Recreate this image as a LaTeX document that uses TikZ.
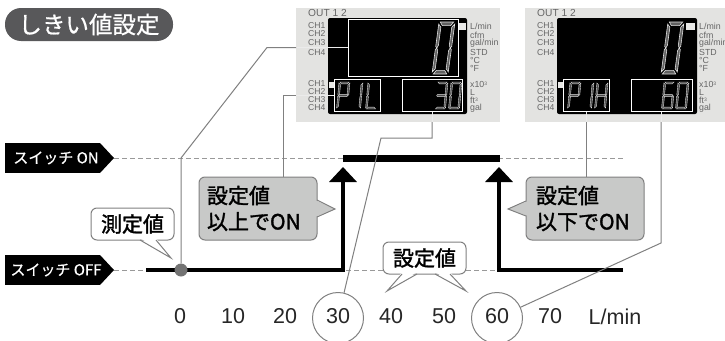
\documentclass[tikz,border=0pt]{standalone}
\usepackage{fontspec}
\usetikzlibrary{arrows.meta}
\setmainfont{Liberation Sans}
\newfontfamily\jp[RawFeature={embolden=0.7}]{Noto Sans CJK JP}
\newfontfamily\jpm[RawFeature={embolden=1.5}]{Noto Sans CJK JP}
\definecolor{leadc}{HTML}{808080}
\definecolor{panelc}{HTML}{E3E3E1}
\definecolor{ptext}{HTML}{666666}
\definecolor{callc}{HTML}{C8C9C8}
\definecolor{pillc}{HTML}{58585A}
\def\sega{(.8,0)--(9.2,0)--(7.6,1.4)--(2.4,1.4)--cycle}
\def\segb{(10,.8)--(10,9.4)--(9.2,10)--(8.4,9)--(8.4,2)--cycle}
\def\segc{(10,10.6)--(10,19.2)--(8.4,18)--(8.4,11)--(9.2,10)--cycle}
\def\segd{(.8,20)--(9.2,20)--(7.6,18.6)--(2.4,18.6)--cycle}
\def\sege{(0,10.6)--(0,19.2)--(1.6,18)--(1.6,11)--(.8,10)--cycle}
\def\segf{(0,.8)--(0,9.4)--(.8,10)--(1.6,9)--(1.6,2)--cycle}
\def\segg{(1.6,9.2)--(8.4,9.2)--(9.2,10)--(8.4,10.8)--(1.6,10.8)--(.8,10)--cycle}
\newcommand\bigdigit[3]{\begin{scope}[cm={1.6,0,.35,2.6,(#1,#2)}]
\foreach \s in {#3}{\draw[segst] \csname seg\s\endcsname;}\end{scope}}
\newcommand\smalldigit[3]{\begin{scope}[cm={1.1,0,.125,1.35,(#1,#2)}]
\foreach \s in {#3}{\draw[segthin] \csname seg\s\endcsname;}\end{scope}}
\newcommand\supthree{\raisebox{1.6pt}{\fontsize{5}{5}\selectfont 3}}
\newcommand\paneltexts[2]{%
\node[ptxt,anchor=west,font=\fontsize{10.2}{11}\selectfont] at (#1,13) {OUT 1 2};
\foreach \yy/\tt in {25.5/CH1,34/CH2,43/CH3,52.5/CH4,84/CH1,92/CH2,100/CH3,108/CH4}
  \node[ptxt,anchor=west] at (#1,\yy) {\tt};
\foreach \yy/\tt in {26/{L/min},35/cfm,43.5/{gal/min},52/STD,60/\textdegree C,68/\textdegree F,84/x10\supthree,92/L,100/ft\supthree,108/gal}
  \node[ptxt,anchor=west,font=\fontsize{8.8}{9}\selectfont] at (#2,\yy) {\tt};
}
\tikzset{
  x=1pt,y=-1pt,
  ptxt/.style={font=\fontsize{8.6}{9}\selectfont,text=ptext,inner sep=0},
  segst/.style={draw=white!88!black,fill=black!62,line width=.6pt},
  segthin/.style={draw=white!85!black,fill=black!70,line width=.4pt},
  hl/.style={draw=white,line width=1pt,inner sep=0,minimum height=32pt},
  lead/.style={draw=leadc,line width=1pt},
  leadw/.style={draw=white!92!black,line width=1pt},
  dashline/.style={draw=black!40,line width=.8pt,dash pattern=on 5pt off 3pt},
  state/.style={line width=4.6pt,line cap=butt,line join=miter},
  sw/.style={fill=black,inner sep=0,text=white},
  call/.style={draw=leadc,line width=1pt,rounded corners=6pt,inner sep=0,font=\jpm\fontsize{21}{26}\selectfont},
  num/.style={font=\fontsize{21.5}{24}\selectfont,text=black!85,inner sep=0},
  circ/.style={circle,draw=leadc,line width=1pt,fill=white,minimum size=51pt,inner sep=0}
}
\begin{document}
\begin{tikzpicture}
\useasboundingbox (0,0) rectangle (725,340);
\clip (0,0) rectangle (725,340);
\fill[white] (0,0) rectangle (725,340);
% title
\node[fill=pillc,rounded corners=16pt,minimum width=168pt,minimum height=33pt,inner sep=0,text=white,font=\jp\fontsize{23.5}{24}\selectfont] (title) at (89,24.5) {しきい値設定};
% panels
\fill[panelc] (296,8) rectangle (500,122);
\fill[panelc] (525,8) rectangle (725,122);
\fill[black,rounded corners=2pt] (328,18) rectangle (467,114);
\fill[black,rounded corners=2pt] (557,18) rectangle (697,114);
\paneltexts{308}{470}
\paneltexts{537}{699}
\fill[panelc!80!white] (458,23) rectangle (466,30);
\fill[panelc!80!white] (329,82) rectangle (334,88);
\fill[panelc!80!white] (686,23) rectangle (695,30);
\fill[panelc!80!white] (558,82) rectangle (563,88);
% highlight frames
\node[hl,minimum width=110pt,minimum height=57pt] (r1) at (403,47.5) {};
\node[hl,minimum width=46pt] (r2) at (357,95) {};
\node[hl,minimum width=60pt] (r3) at (432,95) {};
\node[hl,minimum width=46pt] (r4) at (586,95) {};
\node[hl,minimum width=61pt] (r5) at (662,95) {};
% digits
\bigdigit{439}{22}{a,b,c,d,e,f}
\bigdigit{668}{22}{a,b,c,d,e,f}
\smalldigit{339}{82}{a,b,e,f,g}
\smalldigit{352}{82}{b,c}
\smalldigit{368}{82}{d,e,f}
\smalldigit{437}{82}{a,b,c,d,g}
\smalldigit{451}{82}{a,b,c,d,e,f}
\smalldigit{570}{82}{a,b,e,f,g}
\smalldigit{583}{82}{b,c}
\smalldigit{597}{82}{b,c,e,f,g}
\smalldigit{664}{82}{a,c,d,e,f,g}
\smalldigit{678}{82}{a,b,c,d,e,f}
% dashed levels
\coordinate (onA) at (114,158.5);
\coordinate (onB) at (623,158.5);
\coordinate (offA) at (114,270);
\coordinate (offB) at (498,270);
\draw[dashline] (onA) -- (onB);
\draw[dashline] (offA) -- (offB);
% switch tags
\node[sw,minimum width=95pt,minimum height=30pt] (tagon) at (52.5,158) {};
\fill[black] (100,143) -- (114,158) -- (100,173) -- cycle;
\node[text=white,inner sep=0,font=\jp\fontsize{15}{16}\selectfont] at (56,158) {スイッチ ON};
\node[sw,minimum width=95pt,minimum height=30pt] (tagoff) at (52.5,270) {};
\fill[black] (100,255) -- (114,270) -- (100,285) -- cycle;
\node[text=white,inner sep=0,font=\jp\fontsize{15}{16}\selectfont] at (56,270) {スイッチ OFF};
% state lines
\coordinate (s0) at (146,270);
\coordinate (s1) at (343,270);
\coordinate (s1t) at (343,167);
\coordinate (s2) at (499,270);
\coordinate (s2t) at (499,167);
\coordinate (s3) at (623,270);
\coordinate (h0) at (343,158.5);
\coordinate (h1) at (500,158.5);
\draw[state,-{Triangle[width=27pt,length=15pt]}] (s0) -- (s1) -- (s1t);
\draw[state,-{Triangle[width=27pt,length=15pt]}] (s3) -- (s2) -- (s2t);
\draw[line width=7.4pt] (h0) -- (h1);
% axis circles & numbers
\node[circ] (c30) at (338,318) {};
\node[circ] (c60) at (497,318) {};
\node[num] at (180,316.5) {0};
\node[num] at (233,316.5) {10};
\node[num] at (285,316.5) {20};
\node[num] at (338,316.5) {30};
\node[num] at (391,316.5) {40};
\node[num] at (444,316.5) {50};
\node[num] at (497,316.5) {60};
\node[num] at (550,316.5) {70};
\node[num] at (615,316.5) {L/min};
% measured dot
\node[circle,fill=black!55,minimum size=13pt,inner sep=0] (dot) at (181,270) {};
% callouts
\node[call,fill=white,minimum width=83pt,minimum height=32pt] (mes) at (132.5,224) {測定値};
\fill[white] (140,238) -- (171,258) -- (156,238) -- cycle;
\draw[leadc,line width=1pt] (140,240) -- (171,258) -- (156,240);
\node[call,fill=callc,minimum width=118pt,minimum height=63pt,align=left] (hi) at (258,208.5) {\makebox[102pt][l]{設定値}\\\makebox[102pt][l]{以上でON}};
\fill[callc] (315,200) -- (335,209) -- (315,217) -- cycle;
\draw[leadc,line width=1pt] (317,200) -- (335,209) -- (317,217);
\node[call,fill=callc,minimum width=118pt,minimum height=63pt,align=left] (lo) at (585,208.5) {\makebox[98pt][l]{設定値}\\\makebox[98pt][l]{以下でON}};
\fill[callc] (528,201) -- (508,209) -- (528,216) -- cycle;
\draw[leadc,line width=1pt] (526,201) -- (508,209) -- (526,216);
\node[call,fill=white,minimum width=83pt,minimum height=32pt] (set) at (424.5,258) {設定値};
\fill[white] (402,272) -- (387,291) -- (417,272) -- cycle;
\draw[leadc,line width=1pt] (402,274) -- (387,291) -- (417,274);
\fill[white] (435,272) -- (466,291) -- (450,272) -- cycle;
\draw[leadc,line width=1pt] (435,274) -- (466,291) -- (450,274);
% leader lines
\coordinate (e1) at (296,47.5);
\coordinate (k1) at (267,47.5);
\coordinate (k2) at (181,158);
\draw[leadw] (r1.west) -- (e1);
\draw[lead] (e1) -- (k1) -- (k2) -- (dot.north);
\coordinate (e2) at (296,95);
\draw[leadw] (r2.west) -- (e2);
\draw[lead] (e2) -- (283.5,95) -- (hi.north -| 283.5,0);
\coordinate (e3) at (432,122);
\draw[leadw] (r3.south) -- (e3);
\draw[lead] (e3) -- (432,138) -- (381,138) -- (c30);
\coordinate (e4) at (586,122);
\draw[leadw] (r4.south) -- (e4);
\draw[lead] (e4) -- (lo.north -| e4);
\coordinate (e5) at (661,122);
\draw[leadw] (r5.south -| e5) -- (e5);
\draw[lead] (e5) -- (661,243) -- (c60);
\end{tikzpicture}
\end{document}
